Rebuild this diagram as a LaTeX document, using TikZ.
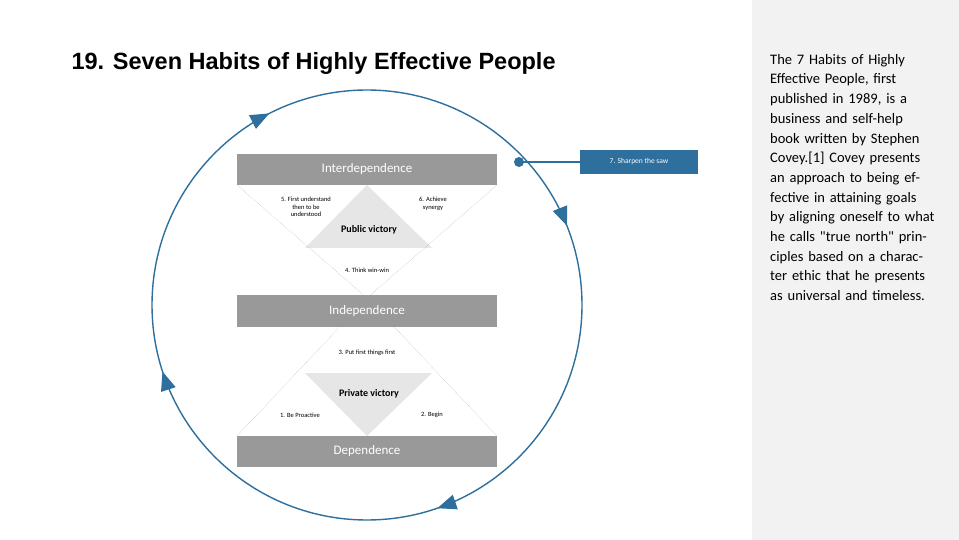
\documentclass[tikz,border=0pt]{standalone}
\usepackage{fontspec}
\setmainfont{Liberation Sans}
\newfontfamily\carfont{Carlito}
\usetikzlibrary{decorations.markings,arrows.meta}
\definecolor{bl}{HTML}{2E6F9E}
\definecolor{gb}{HTML}{999999}
\definecolor{lt}{HTML}{E6E6E6}
\tikzset{band/.style={fill=gb,minimum width=260pt,minimum height=31pt,inner sep=0,text=white,font=\carfont\fontsize{13}{13}\selectfont},
sm/.style={font=\carfont\fontsize{6.5}{7.5}\selectfont,align=center,inner sep=0},
dsh/.style={densely dotted,gray!70,line width=0.4pt},
tri/.style={\arrow{Triangle[width=15pt,length=19pt]}}}
\begin{document}
\begin{tikzpicture}[x=1pt,y=-1pt]
\useasboundingbox (0,0) rectangle (959,540);
\fill[white] (0,0) rectangle (959,540);
\fill[black!5] (752,0) rectangle (959,540);
\node[anchor=west,font=\bfseries\fontsize{23.5}{24}\selectfont] (title) at (68,63) {19. Seven Habits of Highly Effective People};
% triangles
\fill[lt] (367,185) -- (305,248) -- (432,248) -- cycle;
\fill[lt] (367,436) -- (305,373) -- (432,373) -- cycle;
\draw[dsh] (237,185) -- (367,298) -- (497,185);
\draw[dsh] (237,436) -- (367,298) -- (497,436);
\node[band] (inter) at (367,169.5) {Interdependence};
\node[band] (indep) at (367,311) {Independence};
\node[band] (dep) at (367,451.5) {Dependence};
\node[sm] (h5) at (306,207) {5. First understand\\then to be\\understood};
\node[sm] (h6) at (433,204) {6. Achieve\\synergy};
\node[font=\carfont\bfseries\fontsize{10}{10}\selectfont] (pub) at (369,230) {Public victory};
\node[sm] (h4) at (367,270) {4. Think win-win};
\node[sm] (h3) at (367,353) {3. Put first things first};
\node[font=\carfont\bfseries\fontsize{10}{10}\selectfont] (priv) at (369,394) {Private victory};
\node[sm] (h1) at (300,415) {1. Be Proactive};
\node[sm] (h2) at (432,415) {2. Begin};
% circle
\draw[bl,line width=1.4pt,postaction={decorate},decoration={markings,
 mark=at position 0.19 with {\arrow{Triangle[width=15pt,length=19pt]}},
 mark=at position 0.447 with {\arrow{Triangle[width=15pt,length=19pt]}},
 mark=at position 0.70 with {\arrow{Triangle[width=15pt,length=19pt]}},
 mark=at position 0.925 with {\arrow{Triangle[width=15pt,length=19pt]}}}]
 (367,90) arc[start angle=-90,end angle=270,radius=215];
\node[fill=bl,text=white,minimum width=118pt,minimum height=24pt,inner sep=0,font=\carfont\fontsize{7.5}{7.5}\selectfont] (saw) at (639,162) {7. Sharpen the saw};
\coordinate (dot) at (519,162);
\draw[bl,line width=1.4pt] (dot) -- (saw.west);
\fill[bl] (dot) circle (5pt);
\node[anchor=north west,align=left,text width=165pt,font=\carfont\fontsize{14.5}{19.7}\selectfont,inner sep=0] (desc) at (770,54) {\raggedright The 7 Habits of Highly Effective People, first published in 1989, is a business and self-help book written by Stephen Covey.[1] Covey presents an approach to being effective in attaining goals by aligning oneself to what he calls "true north" principles based on a character ethic that he presents as universal and timeless.};
\end{tikzpicture}
\end{document}
